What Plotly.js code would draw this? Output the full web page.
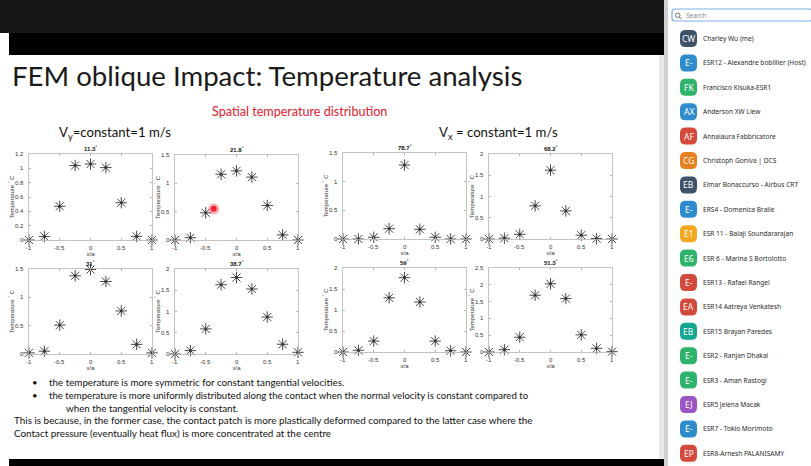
<!DOCTYPE html>
<html><head><meta charset="utf-8">
<script src="https://cdn.plot.ly/plotly-3.0.1.min.js"></script>
<style>html,body{margin:0;padding:0;background:#fff;}#plot{width:811px;height:466px;}</style>
</head><body><div id="plot"></div>
<script>
// ---- data ----
const xa = [-1, -0.75, -0.5, -0.25, 0, 0.25, 0.5, 0.75, 1];
const xTicks = [-1, -0.5, 0, 0.5, 1];
const angles = ['11.3', '21.8', '31', '38.7', '78.7', '68.2', '59', '51.3'];
const temp_11_3 = [0, 0.05, 0.47, 1.04, 1.06, 1.01, 0.52, 0.05, 0];
const temp_21_8 = [0, 0.04, 0.48, 1.16, 1.22, 1.11, 0.61, 0.09, 0];
const temp_31   = [0.02, 0.05, 0.51, 1.38, 1.49, 1.28, 0.76, 0.17, 0.02];
const temp_38_7 = [0, 0.08, 0.59, 1.63, 1.80, 1.53, 0.87, 0.23, 0.04];
const temp_78_7 = [0, 0, 0.03, 0.18, 1.29, 0.17, 0.03, 0, 0];
const temp_68_2 = [0, 0.02, 0.11, 0.78, 1.62, 0.66, 0.09, 0.01, 0];
const temp_59   = [0, 0.04, 0.26, 1.29, 1.77, 1.19, 0.26, 0.03, 0];
const temp_51_3 = [0, 0.07, 0.44, 1.69, 2.03, 1.59, 0.51, 0.11, 0.01];
const yMax  = [1.2, 1.5, 1.5, 2, 1.5, 2, 2, 2.5];
const yStep = [0.2, 0.5, 0.5, 0.5, 0.5, 0.5, 0.5, 0.5];
const pointerX = [-0.37], pointerY = [0.55];

const names = ['Charley Wu (me)', 'ESR12 - Alexandre bobillier (Host)', 'Francisco Kisuka-ESR1', 'Anderson XW Liew',
  'Annalaura Fabbricatore', 'Christoph Goniva | DCS', 'Elmar Bonaccurso - Airbus CRT', 'ERS4 - Domenica Braile',
  'ESR 11 - Balaji Soundararajan', 'ESR 6 - Marina S Bortolotto', 'ESR13 - Rafael Rangel', 'ESR14 Aatreya Venkatesh',
  'ESR15 Brayan Paredes', 'ESR2 - Ranjan Dhakal', 'ESR3 - Aman Rastogi', 'ESR5 Jelena Macak', 'ESR7 - Tokio Morimoto',
  'ESR8-Arnesh PALANISAMY'];
const initials = ['CW', 'E-', 'FK', 'AX', 'AF', 'CG', 'EB', 'E-', 'E1', 'E6', 'E-', 'EA', 'EB', 'E-', 'E-', 'EJ', 'E-', 'EP'];
const avatarColors = ['#3e5268', '#2f8ccc', '#2db36a', '#2f8ccc', '#d34a3c', '#e8801f', '#3e5268', '#2f8ccc', '#f3a81e',
  '#2db36a', '#d34a3c', '#d34a3c', '#14a68e', '#2db36a', '#2db36a', '#9b54c0', '#2f8ccc', '#d34a3c'];

// ---- layout helpers ----
const W = 811, H = 466;
const px = x => x / W, py = y => 1 - y / H;
const boxes = [[29,152,154,240],[175,298,155,240],[29,152,269,354],[175,298,269,354],
               [343,466,153,239],[489,612,154,239],[343,466,268,352],[489,612,268,352]];
const series = [temp_11_3, temp_21_8, temp_31, temp_38_7, temp_78_7, temp_68_2, temp_59, temp_51_3];

const FONT = 'Liberation Sans, Arial, sans-serif';
const SLIDE = 'Lato, Open Sans, sans-serif';
const traces = [], layout = {
  width: W, height: H, margin: {l:0, r:0, t:0, b:0}, showlegend: false,
  paper_bgcolor: '#ffffff', plot_bgcolor: 'rgba(0,0,0,0)', shapes: [], annotations: []
};
const tickFont = {family: FONT, size: 6, color: '#333'};

series.forEach((ys, i) => {
  const n = i + 1, xk = 'x' + n, yk = 'y' + n;
  const [l, r, t, b] = boxes[i];
  const xRange = [-1, 1], yRange = [0, yMax[i]];
  const axCommon = {showline: true, mirror: 'ticks', linecolor: '#b4b4b4', linewidth: 0.8, ticks: 'inside',
    ticklen: 2, tickcolor: '#b4b4b4', showgrid: false, zeroline: false, showticklabels: false, fixedrange: true};
  layout['xaxis' + (n === 1 ? '' : n)] = Object.assign({}, axCommon, {
    domain: [px(l), px(r)], anchor: yk, range: xRange, tickvals: xTicks,
    title: {text: 'x/a', font: {family: FONT, size: 6, color: '#333'}, standoff: 11}
  });
  const tv = []; for (let v = 0; v <= yMax[i] + 1e-9; v += yStep[i]) tv.push(+v.toFixed(2));
  layout['yaxis' + (n === 1 ? '' : n)] = Object.assign({}, axCommon, {
    domain: [py(b), py(t)], anchor: xk, range: yRange, tickvals: tv,
    title: {text: 'Temperature <sup>°</sup> C', font: {family: FONT, size: 6, color: '#333'}, standoff: 13}
  });
  // tick labels placed along each axis (fraction of the axis range)
  xTicks.forEach(v => layout.annotations.push({xref: xk + ' domain', yref: yk + ' domain',
    x: (v - xRange[0]) / (xRange[1] - xRange[0]), y: 0, yanchor: 'top',
    xanchor: 'center', yshift: -3, showarrow: false, text: String(v), font: tickFont}));
  tv.forEach(v => layout.annotations.push({xref: xk + ' domain', yref: yk + ' domain', x: 0,
    y: (v - yRange[0]) / (yRange[1] - yRange[0]), xanchor: 'right',
    yanchor: 'middle', xshift: -3, showarrow: false, text: String(v), font: tickFont}));
  traces.push({x: xa, y: ys, xaxis: xk, yaxis: yk, type: 'scatter', mode: 'markers', cliponaxis: false,
    marker: {symbol: 'asterisk-open', size: 9.5, line: {width: 0.9, color: 'rgba(70,70,70,0.55)'}, color: '#333'},
    hoverinfo: 'skip'});
  traces.push({x: xa, y: ys, xaxis: xk, yaxis: yk, type: 'scatter', mode: 'markers', cliponaxis: false,
    marker: {symbol: 'circle', size: 2.6, color: '#333'}, hoverinfo: 'skip'});
  layout.annotations.push({xref: xk + ' domain', yref: yk + ' domain', x: 0.5, y: 1, yanchor: 'bottom',
    yshift: 0, showarrow: false, text: '<b>' + angles[i] + '<sup>°</sup></b>',
    font: {family: FONT, size: 6, color: '#111'}});
});
// mouse pointer highlight on the 21.8° panel
traces.push({x: pointerX, y: pointerY, xaxis: 'x2', yaxis: 'y2', type: 'scatter', mode: 'markers', cliponaxis: false,
  marker: {symbol: 'circle', size: 11, color: 'rgba(255,80,90,0.45)'}, hoverinfo: 'skip'});
traces.push({x: pointerX, y: pointerY, xaxis: 'x2', yaxis: 'y2', type: 'scatter', mode: 'markers', cliponaxis: false,
  marker: {symbol: 'circle', size: 6, color: '#ee2233'}, hoverinfo: 'skip'});

// ---- background frame ----
const rect = (x0, y0, x1, y1, fill, extra) => Object.assign({type: 'rect', xref: 'paper', yref: 'paper',
  x0: px(x0), x1: px(x1), y0: py(y1), y1: py(y0), fillcolor: fill, line: {width: 0}, layer: 'below'}, extra || {});
layout.shapes.push(rect(0, 0, 668, 33, '#161616'));
layout.shapes.push(rect(9, 33, 668, 55, '#000000'));
layout.shapes.push(rect(9, 459, 668, 466, '#000000'));
layout.shapes.push(rect(659, 55, 668, 459, '#e9e9e9'));
layout.shapes.push(rect(664, 0, 668, 466, '#d0d0d0'));
// sidebar
layout.shapes.push(rect(668, 0, 811, 466, '#ffffff'));
function roundRect(x0, y0, x1, y1, r) {
  const X = px, Y = py;
  return `M${X(x0 + r)},${Y(y0)} L${X(x1 - r)},${Y(y0)} Q${X(x1)},${Y(y0)} ${X(x1)},${Y(y0 + r)} ` +
    `L${X(x1)},${Y(y1 - r)} Q${X(x1)},${Y(y1)} ${X(x1 - r)},${Y(y1)} L${X(x0 + r)},${Y(y1)} ` +
    `Q${X(x0)},${Y(y1)} ${X(x0)},${Y(y1 - r)} L${X(x0)},${Y(y0 + r)} Q${X(x0)},${Y(y0)} ${X(x0 + r)},${Y(y0)} Z`;
}
layout.shapes.push({type: 'path', xref: 'paper', yref: 'paper', layer: 'below', fillcolor: '#ffffff',
  line: {color: '#7fb0e6', width: 1.2}, path: roundRect(672, 9, 812, 21, 3)});
layout.shapes.push({type: 'circle', xref: 'paper', yref: 'paper', layer: 'above', line: {color: '#666', width: 0.9},
  x0: px(675.5), x1: px(680), y0: py(17.5), y1: py(13)});
layout.shapes.push({type: 'line', xref: 'paper', yref: 'paper', layer: 'above', line: {color: '#666', width: 1},
  x0: px(679.5), x1: px(681.5), y0: py(17), y1: py(19)});
layout.annotations.push({xref: 'paper', yref: 'paper', x: px(684), y: py(15.3), xanchor: 'left', yanchor: 'middle',
  showarrow: false, text: 'Search', font: {family: 'Noto Sans, sans-serif', size: 6.5, color: '#8a8a8a'}});
names.forEach((nm, i) => {
  const cy = 38.5 + 24.4 * i, cx = 688.5, s = 8.5;
  layout.shapes.push({type: 'path', xref: 'paper', yref: 'paper', layer: 'above', fillcolor: avatarColors[i],
    line: {width: 0}, path: roundRect(cx - s, cy - s, cx + s, cy + s, 5.5)});
  layout.annotations.push({xref: 'paper', yref: 'paper', x: px(cx), y: py(cy), xanchor: 'center', yanchor: 'middle',
    showarrow: false, text: initials[i], font: {family: 'Noto Sans, sans-serif', size: 8.5, color: '#ffffff'}});
  layout.annotations.push({xref: 'paper', yref: 'paper', x: px(700.5), y: py(cy), xanchor: 'left', yanchor: 'middle',
    showarrow: false, text: nm, font: {family: 'Noto Sans, sans-serif', size: 6.6, color: '#2a2a2a'}});
});

// ---- slide text ----
const txt = (x, y, text, size, color, extra) => layout.annotations.push(Object.assign({xref: 'paper', yref: 'paper',
  x: px(x), y: py(y), xanchor: 'left', yanchor: 'middle', showarrow: false, text: text,
  font: {family: SLIDE, size: size, color: color}}, extra || {}));
txt(10, 76, 'FEM oblique Impact: Temperature analysis', 27.6, '#1a1a1a');
txt(210, 111, 'Spatial temperature distribution', 12.6, '#e3202c');
txt(57, 133, 'V<sub>y</sub>=constant=1 m/s', 13.2, '#111');
txt(437, 133, 'V<sub>x</sub> = constant=1 m/s', 13.2, '#111');
txt(30, 382, '•', 9.5, '#111');
txt(47, 382, 'the temperature is more symmetric for constant tangential velocities.', 9.8, '#111');
txt(30, 395, '•', 9.5, '#111');
txt(47, 395, 'the temperature is more uniformly distributed along the contact when the normal velocity is constant compared to', 9.6, '#111');
txt(64, 408, 'when the tangential velocity is constant.', 9.8, '#111');
txt(12, 420, 'This is because, in the former case, the contact patch is more plastically deformed compared to the latter case where the', 9.9, '#111');
txt(12, 433, 'Contact pressure (eventually heat flux) is more concentrated at the centre', 9.9, '#111');

Plotly.newPlot('plot', traces, layout, {staticPlot: true, displayModeBar: false});
</script></body></html>
